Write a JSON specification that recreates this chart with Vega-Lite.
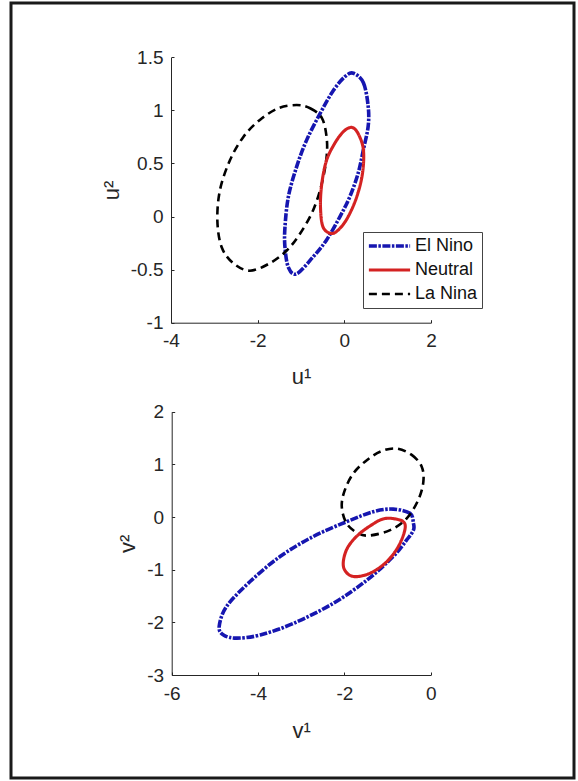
{
  "$schema": "https://vega.github.io/schema/vega-lite/v6.json",
  "width": 563,
  "height": 775,
  "autosize": {"type": "none"},
  "padding": {"left": 11, "top": 3, "right": 4, "bottom": 3},
  "background": "white",
  "config": {
    "view": {"stroke": "#1a1a1a", "strokeWidth": 3},
    "font": "Liberation Sans",
    "axis": {
      "grid": false,
      "domainColor": "#262626",
      "tickColor": "#262626",
      "labelColor": "#262626",
      "titleColor": "#262626",
      "labelFont": "Liberation Sans",
      "titleFont": "Liberation Sans",
      "labelFontSize": 19,
      "titleFontSize": 22,
      "titleFontWeight": "normal",
      "tickSize": -3,
      "labelFlush": false,
      "labelOverlap": false,
      "labelBound": false,
      "labelExpr": "'' + datum.value"
    }
  },
  "datasets": {
    "top": [
      {"series": "El Nino", "i": 0, "x": 0.21, "y": 1.35},
      {"series": "El Nino", "i": 1, "x": 0.44, "y": 1.26},
      {"series": "El Nino", "i": 2, "x": 0.55, "y": 1.04},
      {"series": "El Nino", "i": 3, "x": 0.55, "y": 0.85},
      {"series": "El Nino", "i": 4, "x": 0.44, "y": 0.63},
      {"series": "El Nino", "i": 5, "x": 0.32, "y": 0.41},
      {"series": "El Nino", "i": 6, "x": 0.13, "y": 0.19},
      {"series": "El Nino", "i": 7, "x": -0.10, "y": 0.00},
      {"series": "El Nino", "i": 8, "x": -0.41, "y": -0.22},
      {"series": "El Nino", "i": 9, "x": -0.72, "y": -0.38},
      {"series": "El Nino", "i": 10, "x": -1.10, "y": -0.54},
      {"series": "El Nino", "i": 11, "x": -1.29, "y": -0.48},
      {"series": "El Nino", "i": 12, "x": -1.37, "y": -0.29},
      {"series": "El Nino", "i": 13, "x": -1.37, "y": -0.10},
      {"series": "El Nino", "i": 14, "x": -1.29, "y": 0.19},
      {"series": "El Nino", "i": 15, "x": -1.10, "y": 0.47},
      {"series": "El Nino", "i": 16, "x": -0.87, "y": 0.72},
      {"series": "El Nino", "i": 17, "x": -0.56, "y": 0.97},
      {"series": "El Nino", "i": 18, "x": -0.25, "y": 1.19},
      {"series": "El Nino", "i": 19, "x": 0.02, "y": 1.32},
      {"series": "La Nina", "i": 0, "x": -1.10, "y": 1.05},
      {"series": "La Nina", "i": 1, "x": -0.79, "y": 1.02},
      {"series": "La Nina", "i": 2, "x": -0.52, "y": 0.93},
      {"series": "La Nina", "i": 3, "x": -0.41, "y": 0.75},
      {"series": "La Nina", "i": 4, "x": -0.41, "y": 0.56},
      {"series": "La Nina", "i": 5, "x": -0.52, "y": 0.31},
      {"series": "La Nina", "i": 6, "x": -0.72, "y": 0.06},
      {"series": "La Nina", "i": 7, "x": -1.02, "y": -0.16},
      {"series": "La Nina", "i": 8, "x": -1.33, "y": -0.32},
      {"series": "La Nina", "i": 9, "x": -1.72, "y": -0.44},
      {"series": "La Nina", "i": 10, "x": -2.18, "y": -0.51},
      {"series": "La Nina", "i": 11, "x": -2.56, "y": -0.44},
      {"series": "La Nina", "i": 12, "x": -2.83, "y": -0.29},
      {"series": "La Nina", "i": 13, "x": -2.93, "y": -0.04},
      {"series": "La Nina", "i": 14, "x": -2.87, "y": 0.25},
      {"series": "La Nina", "i": 15, "x": -2.64, "y": 0.53},
      {"series": "La Nina", "i": 16, "x": -2.33, "y": 0.75},
      {"series": "La Nina", "i": 17, "x": -1.95, "y": 0.91},
      {"series": "La Nina", "i": 18, "x": -1.52, "y": 1.02},
      {"series": "Neutral", "i": 0, "x": 0.17, "y": 0.84},
      {"series": "Neutral", "i": 1, "x": 0.32, "y": 0.78},
      {"series": "Neutral", "i": 2, "x": 0.44, "y": 0.63},
      {"series": "Neutral", "i": 3, "x": 0.42, "y": 0.41},
      {"series": "Neutral", "i": 4, "x": 0.29, "y": 0.19},
      {"series": "Neutral", "i": 5, "x": 0.09, "y": 0.00},
      {"series": "Neutral", "i": 6, "x": -0.10, "y": -0.11},
      {"series": "Neutral", "i": 7, "x": -0.29, "y": -0.16},
      {"series": "Neutral", "i": 8, "x": -0.49, "y": -0.10},
      {"series": "Neutral", "i": 9, "x": -0.55, "y": 0.09},
      {"series": "Neutral", "i": 10, "x": -0.52, "y": 0.31},
      {"series": "Neutral", "i": 11, "x": -0.41, "y": 0.53},
      {"series": "Neutral", "i": 12, "x": -0.22, "y": 0.69},
      {"series": "Neutral", "i": 13, "x": -0.02, "y": 0.80}
    ],
    "bottom": [
      {"series": "El Nino", "i": 0, "x": -0.40, "y": -0.12},
      {"series": "El Nino", "i": 1, "x": -0.48, "y": 0.07},
      {"series": "El Nino", "i": 2, "x": -0.87, "y": 0.15},
      {"series": "El Nino", "i": 3, "x": -1.33, "y": 0.10},
      {"series": "El Nino", "i": 4, "x": -1.95, "y": -0.09},
      {"series": "El Nino", "i": 5, "x": -2.72, "y": -0.37},
      {"series": "El Nino", "i": 6, "x": -3.49, "y": -0.75},
      {"series": "El Nino", "i": 7, "x": -4.19, "y": -1.23},
      {"series": "El Nino", "i": 8, "x": -4.73, "y": -1.70},
      {"series": "El Nino", "i": 9, "x": -4.90, "y": -2.08},
      {"series": "El Nino", "i": 10, "x": -4.80, "y": -2.24},
      {"series": "El Nino", "i": 11, "x": -4.49, "y": -2.30},
      {"series": "El Nino", "i": 12, "x": -3.95, "y": -2.24},
      {"series": "El Nino", "i": 13, "x": -3.18, "y": -2.02},
      {"series": "El Nino", "i": 14, "x": -2.26, "y": -1.64},
      {"series": "El Nino", "i": 15, "x": -1.48, "y": -1.20},
      {"series": "El Nino", "i": 16, "x": -0.87, "y": -0.75},
      {"series": "El Nino", "i": 17, "x": -0.56, "y": -0.44},
      {"series": "El Nino", "i": 18, "x": -0.40, "y": -0.25},
      {"series": "La Nina", "i": 0, "x": -0.79, "y": 1.30},
      {"series": "La Nina", "i": 1, "x": -0.44, "y": 1.18},
      {"series": "La Nina", "i": 2, "x": -0.21, "y": 0.96},
      {"series": "La Nina", "i": 3, "x": -0.17, "y": 0.67},
      {"series": "La Nina", "i": 4, "x": -0.29, "y": 0.32},
      {"series": "La Nina", "i": 5, "x": -0.56, "y": -0.03},
      {"series": "La Nina", "i": 6, "x": -0.94, "y": -0.25},
      {"series": "La Nina", "i": 7, "x": -1.41, "y": -0.35},
      {"series": "La Nina", "i": 8, "x": -1.68, "y": -0.31},
      {"series": "La Nina", "i": 9, "x": -1.95, "y": -0.12},
      {"series": "La Nina", "i": 10, "x": -2.06, "y": 0.20},
      {"series": "La Nina", "i": 11, "x": -1.99, "y": 0.51},
      {"series": "La Nina", "i": 12, "x": -1.79, "y": 0.83},
      {"series": "La Nina", "i": 13, "x": -1.48, "y": 1.08},
      {"series": "La Nina", "i": 14, "x": -1.14, "y": 1.25},
      {"series": "Neutral", "i": 0, "x": -0.87, "y": -0.03},
      {"series": "Neutral", "i": 1, "x": -0.63, "y": -0.09},
      {"series": "Neutral", "i": 2, "x": -0.60, "y": -0.25},
      {"series": "Neutral", "i": 3, "x": -0.75, "y": -0.56},
      {"series": "Neutral", "i": 4, "x": -1.02, "y": -0.85},
      {"series": "Neutral", "i": 5, "x": -1.41, "y": -1.07},
      {"series": "Neutral", "i": 6, "x": -1.79, "y": -1.13},
      {"series": "Neutral", "i": 7, "x": -1.99, "y": -1.01},
      {"series": "Neutral", "i": 8, "x": -2.02, "y": -0.82},
      {"series": "Neutral", "i": 9, "x": -1.91, "y": -0.56},
      {"series": "Neutral", "i": 10, "x": -1.64, "y": -0.31},
      {"series": "Neutral", "i": 11, "x": -1.25, "y": -0.09},
      {"series": "Neutral", "i": 12, "x": -1.06, "y": -0.03}
    ]
  },
  "layer": [
    {
      "data": {"name": "top"},
      "mark": {"type": "line", "interpolate": "cardinal-closed"},
      "encoding": {
        "x": {
          "field": "x", "type": "quantitative",
          "scale": {"domain": [-4, 2], "range": [160, 420], "nice": false, "zero": false},
          "axis": {"orient": "bottom", "offset": -455.3, "values": [-4, -2, 0, 2], "title": "u¹", "labelPadding": 12, "titlePadding": 16}
        },
        "y": {
          "field": "y", "type": "quantitative",
          "scale": {"domain": [-1, 1.5], "range": [319.7, 54.3], "nice": false, "zero": false},
          "axis": {"orient": "left", "offset": -160, "values": [-1, -0.5, 0, 0.5, 1, 1.5], "title": "u²", "labelPadding": 11, "titlePadding": 7}
        },
        "color": {
          "field": "series", "type": "nominal",
          "scale": {"domain": ["El Nino", "Neutral", "La Nina"], "range": ["#1616b0", "#d42222", "#000000"]},
          "legend": {
            "orient": "none", "legendX": 352, "legendY": 229, "title": null,
            "strokeColor": "#444444", "fillColor": "white", "padding": 4,
            "symbolType": "stroke", "symbolSize": 1700,
            "clipHeight": 20, "rowPadding": 4, "labelFontSize": 18, "labelFont": "Liberation Sans",
            "labelColor": "#111111", "labelOffset": 3
          }
        },
        "strokeDash": {
          "field": "series", "type": "nominal",
          "scale": {"domain": ["El Nino", "Neutral", "La Nina"], "range": [[8, 1.5, 2.5, 1.5], [1, 0], [8, 5]]},
          "legend": {
            "orient": "none", "legendX": 352, "legendY": 229, "title": null,
            "strokeColor": "#444444", "fillColor": "white", "padding": 4,
            "symbolType": "stroke", "symbolSize": 1700,
            "clipHeight": 20, "rowPadding": 4, "labelFontSize": 18, "labelFont": "Liberation Sans",
            "labelColor": "#111111", "labelOffset": 3
          }
        },
        "strokeWidth": {
          "field": "series", "type": "nominal",
          "scale": {"domain": ["El Nino", "Neutral", "La Nina"], "range": [3.6, 2.6, 3.4]},
          "legend": {
            "orient": "none", "legendX": 352, "legendY": 229, "title": null,
            "strokeColor": "#444444", "fillColor": "white", "padding": 4,
            "symbolType": "stroke", "symbolSize": 1700,
            "clipHeight": 20, "rowPadding": 4, "labelFontSize": 18, "labelFont": "Liberation Sans",
            "labelColor": "#111111", "labelOffset": 3
          }
        },
        "order": {"field": "i", "type": "quantitative"}
      }
    },
    {
      "data": {"name": "bottom"},
      "mark": {"type": "line", "interpolate": "cardinal-closed"},
      "encoding": {
        "x": {
          "field": "x", "type": "quantitative",
          "scale": {"domain": [-6, 0], "range": [160.7, 419.7], "nice": false, "zero": false},
          "axis": {"orient": "bottom", "offset": -103, "values": [-6, -4, -2, 0], "title": "v¹", "labelPadding": 12, "titlePadding": 17}
        },
        "y": {
          "field": "y", "type": "quantitative",
          "scale": {"domain": [-3, 2], "range": [672, 408.7], "nice": false, "zero": false},
          "axis": {"orient": "left", "offset": -160.7, "values": [-3, -2, -1, 0, 1, 2], "title": "v²", "labelPadding": 11, "titlePadding": 7}
        },
        "color": {"field": "series", "type": "nominal", "legend": null},
        "strokeDash": {"field": "series", "type": "nominal", "legend": null},
        "strokeWidth": {"field": "series", "type": "nominal", "legend": null},
        "order": {"field": "i", "type": "quantitative"}
      }
    }
  ],
  "resolve": {
    "scale": {"x": "independent", "y": "independent"},
    "axis": {"x": "independent", "y": "independent"}
  }
}
